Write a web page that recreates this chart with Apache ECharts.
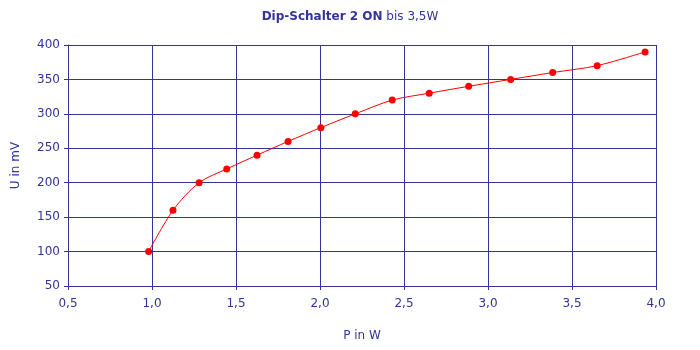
<!DOCTYPE html>
<html><head><meta charset="utf-8">
<script src="https://cdn.jsdelivr.net/npm/echarts@6/dist/echarts.min.js"></script>
<style>html,body{margin:0;padding:0;background:#fff}#c{width:700px;height:350px}</style>
</head><body><div id="c"></div>
<script>
var pW = [0.98, 1.125, 1.28, 1.445, 1.625, 1.81, 2.005, 2.21, 2.43, 2.65, 2.885, 3.135, 3.385, 3.65, 3.935];
var uMV = [100, 160, 200, 220, 240, 260, 280, 300, 320, 330, 340, 350, 360, 370, 390];
var titleBold = 'Dip-Schalter 2 ON';
var titleRest = ' bis 3,5W';
var xName = 'P in W', yName = 'U in mV';
var navy = '#333399';
var font = 'DejaVu Sans';
var chart = echarts.init(document.getElementById('c'));
chart.setOption({
  backgroundColor: '#fff',
  animation: false,
  title: {
    text: '{b|' + titleBold + '}{n|' + titleRest + '}',
    left: 'center', top: 6,
    textStyle: { fontWeight: 'normal', fontSize: 12, color: navy, rich: {
      b: { fontFamily: font, fontWeight: 'bold', fontSize: 12, color: navy },
      n: { fontFamily: font, fontWeight: 'normal', fontSize: 12, color: navy }
    } }
  },
  grid: { left: 68, right: 44, top: 45, bottom: 64 },
  xAxis: {
    type: 'value', min: 0.5, max: 4.0, interval: 0.5,
    name: xName, nameLocation: 'middle', nameGap: 44,
    nameTextStyle: { color: navy, fontFamily: font, fontSize: 12 },
    axisLine: { show: true, lineStyle: { color: navy, width: 1 } },
    axisTick: { show: true, length: 4, lineStyle: { color: navy } },
    axisLabel: { color: navy, fontFamily: font, fontSize: 12, margin: 12,
      formatter: function (v) { return v.toFixed(1).replace('.', ','); } },
    splitLine: { show: true, lineStyle: { color: navy, width: 1 } }
  },
  yAxis: {
    type: 'value', min: 50, max: 400, interval: 50,
    name: yName, nameLocation: 'middle', nameGap: 46,
    nameTextStyle: { color: navy, fontFamily: font, fontSize: 12 },
    axisLine: { show: true, lineStyle: { color: navy, width: 1 } },
    axisTick: { show: true, length: 4, lineStyle: { color: navy } },
    axisLabel: { color: navy, fontFamily: font, fontSize: 12, margin: 8 },
    splitLine: { show: true, lineStyle: { color: navy, width: 1 } }
  },
  series: [{
    type: 'line',
    data: pW.map(function (x, i) { return [x, uMV[i]]; }),
    smooth: 0.3,
    symbol: 'circle', symbolSize: 7,
    itemStyle: { color: '#ff0000' },
    lineStyle: { color: '#ff0000', width: 1 }
  }]
});
</script></body></html>
